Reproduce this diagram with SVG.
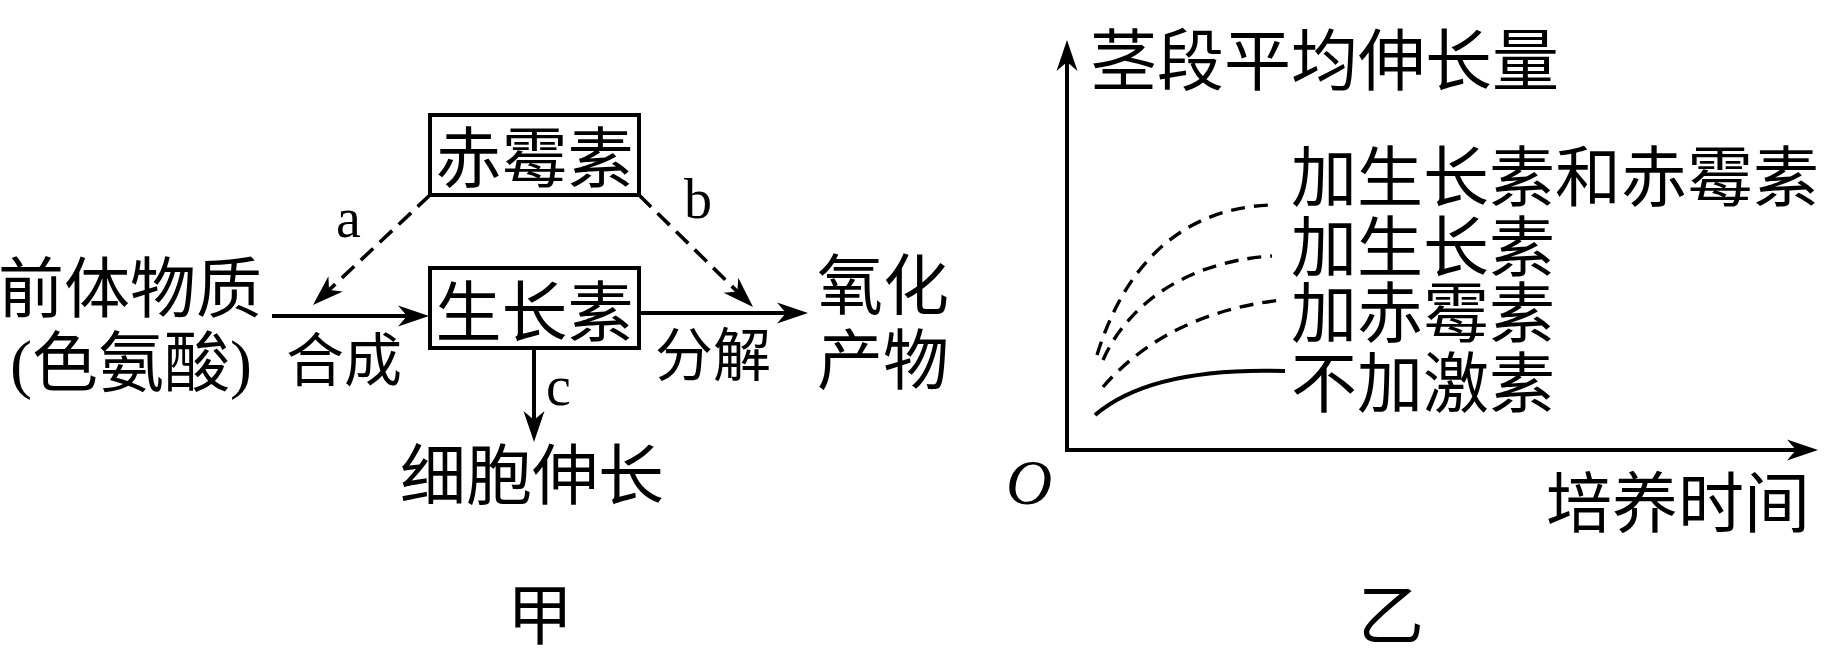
<svg xmlns="http://www.w3.org/2000/svg" width="1838" height="651" viewBox="0 0 1838 651">
<style>
text{font-family:"Liberation Serif","Noto Sans CJK SC",serif;fill:#000}
.cn{font-size:66px}
.sm{font-size:58px}
.lt{font-size:56px}
.box{fill:#fff;stroke:#000;stroke-width:4}
.ln{fill:none;stroke:#000;stroke-width:4}
.dash{fill:none;stroke:#000;stroke-width:3.6;stroke-dasharray:17 9}
.cdash{fill:none;stroke:#000;stroke-width:3.4;stroke-dasharray:14 9}
</style>
<defs>
<marker id="arr" markerUnits="userSpaceOnUse" orient="auto" refX="-10" refY="0" overflow="visible">
<path d="M0,0 L-31,-10.5 L-22,0 L-31,10.5 Z" fill="#000"/>
</marker>
</defs>
<rect width="1838" height="651" fill="#fff"/>

<g id="connectors">
<line class="ln" x1="272" y1="316" x2="419" y2="316" marker-end="url(#arr)"/>
<line class="ln" x1="639" y1="313" x2="798" y2="313" marker-end="url(#arr)"/>
<line class="ln" x1="534" y1="348" x2="534" y2="432" marker-end="url(#arr)"/>
<line class="dash" x1="430" y1="195" x2="320.3" y2="298.2" marker-end="url(#arr)"/>
<line class="dash" x1="639" y1="195" x2="745.9" y2="300" marker-end="url(#arr)"/>
</g>

<g id="node-chimeisu">
<rect class="box" x="430" y="115" width="209" height="80"/>
<text class="cn" x="534.5" y="182" text-anchor="middle">赤霉素</text>
</g>
<g id="node-shengzhangsu">
<rect class="box" x="430" y="268" width="209" height="80"/>
<text class="cn" x="534.5" y="336" text-anchor="middle">生长素</text>
</g>
<g id="node-qianti">
<text class="cn" x="-2" y="312">前体物质</text>
<text class="cn" x="10" y="386">(色氨酸)</text>
</g>
<g id="node-yanghua">
<text class="cn" x="817" y="309">氧化</text>
<text class="cn" x="817" y="384">产物</text>
</g>
<g id="node-xibao">
<text class="cn" x="400" y="499">细胞伸长</text>
</g>
<g id="labels-jia">
<text class="sm" x="286" y="381">合成</text>
<text class="sm" x="655" y="376">分解</text>
<text class="lt" x="336" y="237">a</text>
<text class="lt" x="684" y="218">b</text>
<text class="lt" x="546" y="405">c</text>
<text class="cn" x="540" y="639" text-anchor="middle">甲</text>
</g>

<g id="chart">
<line class="ln" x1="1067" y1="452" x2="1067" y2="50" marker-end="url(#arr)"/>
<line class="ln" x1="1065" y1="450" x2="1808" y2="450" marker-end="url(#arr)"/>
<path class="cdash" d="M1097,355 C1120,280 1170,208 1272,205"/>
<path class="cdash" d="M1103,360 C1125,310 1180,262 1272,256"/>
<path class="cdash" d="M1103,387 C1135,350 1190,310 1282,300"/>
<path class="ln" d="M1095,415 C1130,385 1190,368 1285,371"/>
<text class="cn" x="1090" y="85" style="font-size:67px">茎段平均伸长量</text>
<text class="cn" x="1291" y="201">加生长素和赤霉素</text>
<text class="cn" x="1291" y="271">加生长素</text>
<text class="cn" x="1291" y="337">加赤霉素</text>
<text class="cn" x="1291" y="407">不加激素</text>
<text class="cn" x="1546" y="527">培养时间</text>
<text x="1006" y="504" style="font-size:64px;font-style:italic">O</text>
<text class="cn" x="1391" y="639" text-anchor="middle">乙</text>
</g>
</svg>
